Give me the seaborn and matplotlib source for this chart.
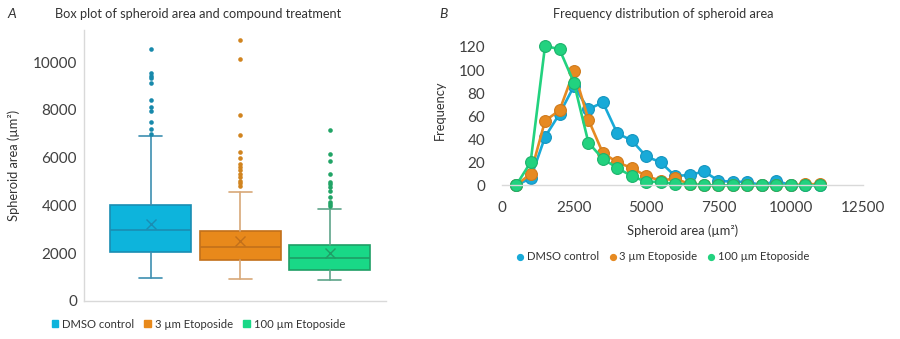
import matplotlib
matplotlib.use("Agg")
import matplotlib.pyplot as plt
from matplotlib.lines import Line2D
from matplotlib.patches import Patch
import seaborn as sns
import pandas as pd

# ---------------- data ----------------
groups = ["DMSO control", "3 µm Etoposide", "100 µm Etoposide"]

# box plot statistics
whis_low = [950, 920, 895]
q1 = [2060, 1715, 1310]
medians = [2960, 2250, 1810]
q3 = [4020, 2915, 2355]
whis_high = [6900, 4560, 3850]
means = [3240, 2520, 2020]
fliers_dmso = [6975, 7200, 7490, 7940, 8120, 8400, 9110, 9340, 9430, 9530, 10540]
fliers_3um = [4810, 4930, 5030, 5180, 5330, 5480, 5620, 5750, 6000, 6230, 6930, 7800, 10110, 10930]
fliers_100um = [3990, 4070, 4160, 4360, 4600, 4760, 4880, 4990, 5300, 5870, 6150, 7170]
fliers = [fliers_dmso, fliers_3um, fliers_100um]

# frequency distribution (panel B)
area_bins = [500, 1000, 1500, 2000, 2500, 3000, 3500, 4000, 4500, 5000, 5500,
             6000, 6500, 7000, 7500, 8000, 8500, 9000, 9500, 10000, 10500, 11000]
freq_dmso = [0, 6, 42, 62, 86, 66, 72, 45, 39, 25, 20, 8, 9, 12, 4, 3, 3, 0, 4, 0, 0, 0]
freq_3um = [0, 10, 56, 65, 99, 57, 28, 20, 15, 8, 4, 6, 1, 0, 0, 0, 0, 0, 0, 0, 1, 1]
freq_100um = [0, 20, 121, 118, 89, 37, 23, 15, 8, 3, 3, 1, 1, 0, 0, 0, 0, 0, 0, 0, 0, 0]

x_ticks = [0, 2500, 5000, 7500, 10000, 12500]
y_ticks_a = [0, 2000, 4000, 6000, 8000, 10000]
y_ticks_b = [0, 20, 40, 60, 80, 100, 120]

# ---------------- style ----------------
sns.set_theme(style="white")
plt.rcParams["font.family"] = ["Lato", "DejaVu Sans"]

box_fill = ["#0DB4DC", "#E8891B", "#19D887"]
box_edge = ["#1A8DB3", "#C2701A", "#1F9E66"]
whisker_col = ["#3D8FB0", "#D8A878", "#5FA48A"]
flier_col = ["#1789AB", "#D1841F", "#21A466"]
line_col = ["#18AAD8", "#E68A22", "#22D27F"]
line_edge = ["#1595BF", "#CF7A1B", "#1DB36C"]
tick_col = "#404040"
axis_col = "#D9D9D9"
text_col = "#333333"

fig = plt.figure(figsize=(9.0, 3.39), dpi=100)

# ---------------- panel A ----------------
axA = fig.add_axes([84 / 900, 1 - 301 / 339, 302 / 900, 271 / 339])
for i in range(3):
    stats = [dict(med=medians[i], q1=q1[i], q3=q3[i], whislo=whis_low[i],
                  whishi=whis_high[i], mean=means[i], fliers=fliers[i],
                  label=groups[i])]
    axA.bxp(stats, positions=[i], widths=0.905, patch_artist=True,
            showmeans=True, capwidths=0.26, manage_ticks=False,
            boxprops=dict(facecolor=box_fill[i], edgecolor=box_edge[i], linewidth=1.2),
            medianprops=dict(color=box_edge[i], linewidth=1.2),
            whiskerprops=dict(color=whisker_col[i], linewidth=1.2),
            capprops=dict(color=whisker_col[i], linewidth=1.2),
            meanprops=dict(marker="x", markeredgecolor=box_edge[i], markersize=7,
                           markeredgewidth=1.0),
            flierprops=dict(marker="o", markerfacecolor=flier_col[i],
                            markeredgecolor=flier_col[i], markersize=3.3,
                            markeredgewidth=0))
axA.set_xlim(-0.745, 2.628)
axA.set_ylim(0, 11339)
axA.set_yticks(y_ticks_a)
axA.set_xticks([])
axA.tick_params(axis="y", length=0, pad=5, labelsize=11, labelcolor=tick_col)
for s in ["top", "right"]:
    axA.spines[s].set_visible(False)
for s in ["left", "bottom"]:
    axA.spines[s].set_color(axis_col)
    axA.spines[s].set_linewidth(1.0)
axA.set_ylabel("Spheroid area (µm²)", fontsize=9.3, color=text_col)
axA.yaxis.set_label_coords(-64 / 302, 0.5)

handlesA = [Patch(facecolor=c, edgecolor=c) for c in box_fill]
fig.legend(handlesA, groups, loc="center", bbox_to_anchor=(198.5 / 900, 1 - 324 / 339),
           ncol=3, frameon=False, fontsize=8.1, handlelength=0.6, handleheight=0.6,
           handletextpad=0.35, columnspacing=0.9, labelcolor=text_col)

fig.text(7 / 900, 1 - 14 / 339, "A", fontsize=10, style="italic", va="center",
         ha="left", color=text_col)
fig.text(198 / 900, 1 - 14 / 339, "Box plot of spheroid area and compound treatment",
         fontsize=9.2, va="center", ha="center", color=text_col)

# ---------------- panel B ----------------
axB = fig.add_axes([501.7 / 900, 1 - 185.3 / 339, 361.3 / 900, 130 * 1.1525 / 339])
df = pd.DataFrame({
    "area": area_bins * 3,
    "freq": freq_dmso + freq_3um + freq_100um,
    "group": [groups[0]] * len(area_bins) + [groups[1]] * len(area_bins)
             + [groups[2]] * len(area_bins),
})
sns.lineplot(data=df, x="area", y="freq", hue="group", hue_order=groups,
             palette=line_col, marker="o", markersize=8.5, linewidth=1.9,
             ax=axB, legend=False, clip_on=False)
for ln, ec in zip(axB.lines, line_edge):
    ln.set_markeredgecolor(ec)
    ln.set_markeredgewidth(0.8)
    ln.set_clip_on(False)
axB.set_xlim(0, 12500)
axB.set_ylim(0, 130)
axB.set_xticks(x_ticks)
axB.set_yticks(y_ticks_b)
axB.tick_params(axis="y", length=0, pad=12, labelsize=11, labelcolor=tick_col)
axB.tick_params(axis="x", direction="inout", length=10, width=1.0, color=axis_col,
                pad=6, labelsize=11, labelcolor=tick_col)
for s in ["top", "right", "left"]:
    axB.spines[s].set_visible(False)
axB.spines["bottom"].set_color(axis_col)
axB.spines["bottom"].set_linewidth(1.0)
axB.set_xlabel("Spheroid area (µm²)", fontsize=9.3, color=text_col)
axB.xaxis.set_label_coords(0.5, -(224 - 185.3) / (130 * 1.1525))
axB.set_ylabel("Frequency", fontsize=9.3, color=text_col)
axB.yaxis.set_label_coords(-(501.7 - 446) / 361.3, 0.5)
axB.set_zorder(2)

handlesB = [Line2D([], [], linestyle="none", marker="o", markersize=4.2,
                   markerfacecolor=c, markeredgecolor=c) for c in line_col]
fig.legend(handlesB, groups, loc="center", bbox_to_anchor=(663 / 900, 1 - 257 / 339),
           ncol=3, frameon=False, fontsize=8.1, handlelength=0.6,
           handletextpad=0.3, columnspacing=0.9, labelcolor=text_col)

fig.text(439 / 900, 1 - 14 / 339, "B", fontsize=10, style="italic", va="center",
         ha="left", color=text_col)
fig.text(663 / 900, 1 - 14 / 339, "Frequency distribution of spheroid area",
         fontsize=9.2, va="center", ha="center", color=text_col)

fig.savefig("out.png", dpi=100)
